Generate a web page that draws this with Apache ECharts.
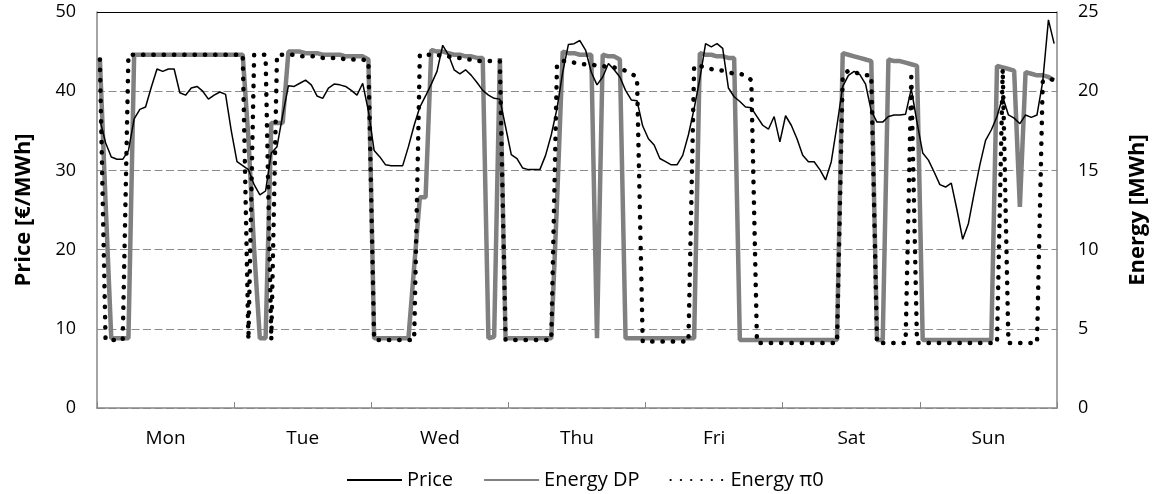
<!DOCTYPE html>
<html>
<head>
<meta charset="utf-8">
<script src="https://cdn.jsdelivr.net/npm/echarts@6/dist/echarts.min.js"></script>
<style>
  html, body { margin: 0; padding: 0; background: #fff; }
  #chart { width: 1157px; height: 494px; }
</style>
</head>
<body>
<div id="chart"></div>
<script>
// 价格与能量（逐小时，一周）
var days = ["Mon", "Tue", "Wed", "Thu", "Fri", "Sat", "Sun"];
var priceTicks = [0, 10, 20, 30, 40, 50];
var energyTicks = [0, 5, 10, 15, 20, 25];

var price = [
  36.4, 33.5, 31.7, 31.4, 31.4, 32.5, 36.5, 37.7, 38.0, 40.5, 42.8, 42.5, 42.8, 42.8, 39.8, 39.5, 40.4, 40.6, 40.0, 39.0, 39.5, 39.9, 39.6, 35.0,
  31.1, 30.6, 30.1, 28.2, 26.9, 27.4, 32.2, 33.0, 37.0, 40.7, 40.6, 41.0, 41.4, 40.8, 39.4, 39.1, 40.4, 40.9, 40.8, 40.6, 40.1, 39.5, 41.0, 37.5,
  32.5, 31.7, 30.7, 30.6, 30.6, 30.6, 33.0, 35.7, 38.0, 39.4, 40.9, 42.5, 45.8, 44.6, 42.7, 42.2, 42.7, 42.0, 41.1, 40.1, 39.5, 39.1, 39.0, 35.5,
  32.0, 31.5, 30.3, 30.1, 30.1, 30.1, 31.9, 34.5, 37.8, 42.4, 45.9, 46.0, 46.4, 45.2, 42.4, 40.8, 41.8, 43.5, 42.7, 41.8, 40.1, 38.9, 38.8, 35.6,
  34.0, 33.2, 31.5, 31.1, 30.7, 30.7, 31.9, 34.5, 37.8, 41.6, 46.0, 45.6, 46.0, 45.4, 40.4, 39.3, 38.7, 38.0, 37.9, 36.8, 35.7, 35.2, 36.8, 33.6,
  36.9, 35.7, 34.0, 31.9, 31.1, 31.1, 30.1, 28.8, 31.1, 35.7, 40.6, 42.0, 42.5, 42.1, 40.9, 37.5, 36.1, 36.1, 36.8, 37.0, 37.0, 37.1, 40.3, 36.1,
  32.2, 31.3, 29.8, 28.2, 27.9, 28.4, 25.0, 21.3, 23.3, 27.1, 30.7, 33.8, 35.1, 36.8, 39.3, 37.0, 36.6, 35.9, 37.0, 36.7, 37.0, 41.2, 49.0, 46.0
];

var energyDP = [
  22.1, 13.0, 4.4, 4.4, 4.4, 4.4, 22.3, 22.3, 22.3, 22.3, 22.3, 22.3, 22.3, 22.3, 22.3, 22.3, 22.3, 22.3, 22.3, 22.3, 22.3, 22.3, 22.3, 22.3,
  22.3, 22.3, 17.0, 10.0, 4.4, 4.4, 18.0, 18.0, 18.0, 22.5, 22.5, 22.5, 22.4, 22.4, 22.4, 22.3, 22.3, 22.3, 22.3, 22.2, 22.2, 22.2, 22.2, 22.0,
  4.4, 4.4, 4.4, 4.4, 4.4, 4.4, 4.4, 8.9, 13.3, 13.3, 22.6, 22.5, 22.5, 22.4, 22.3, 22.3, 22.2, 22.2, 22.1, 22.1, 4.4, 4.5, 22.1, 4.4,
  4.4, 4.4, 4.4, 4.4, 4.4, 4.4, 4.4, 4.4, 13.0, 22.5, 22.4, 22.4, 22.3, 22.3, 22.3, 4.4, 22.3, 22.2, 22.2, 22.0, 4.4, 4.4, 4.4, 4.4,
  4.4, 4.4, 4.4, 4.4, 4.4, 4.4, 4.4, 4.4, 4.4, 22.4, 22.3, 22.3, 22.2, 22.2, 22.1, 22.1, 4.3, 4.3, 4.3, 4.3, 4.3, 4.3, 4.3, 4.3,
  4.3, 4.3, 4.3, 4.3, 4.3, 4.3, 4.3, 4.3, 4.3, 4.3, 22.4, 22.3, 22.2, 22.1, 22.0, 21.9, 4.3, 4.3, 22.0, 21.9, 21.9, 21.8, 21.7, 21.6,
  4.3, 4.3, 4.3, 4.3, 4.3, 4.3, 4.3, 4.3, 4.3, 4.3, 4.3, 4.3, 4.3, 21.6, 21.5, 21.4, 21.3, 12.7, 21.2, 21.1, 21.0, 21.0, 20.9, 20.7
];

var energyPi0 = [
  22.0, 4.3, 4.3, 4.3, 4.3, 22.3, 22.3, 22.3, 22.3, 22.3, 22.3, 22.3, 22.3, 22.3, 22.3, 22.3, 22.3, 22.3, 22.3, 22.3, 22.3, 22.3, 22.3, 22.3,
  22.3, 22.3, 4.3, 22.3, 22.3, 22.3, 4.3, 22.3, 22.3, 22.3, 22.3, 22.2, 22.2, 22.2, 22.2, 22.1, 22.1, 22.1, 22.1, 22.0, 22.0, 22.0, 22.0, 21.9,
  4.3, 4.3, 4.3, 4.3, 4.3, 4.3, 4.3, 4.3, 22.3, 22.3, 22.3, 22.3, 22.2, 22.2, 22.1, 22.1, 22.0, 22.0, 21.9, 21.9, 21.9, 21.9, 21.9, 4.3,
  4.3, 4.3, 4.3, 4.3, 4.3, 4.3, 4.3, 4.3, 21.7, 21.9, 21.9, 21.8, 21.7, 21.7, 21.7, 21.6, 21.6, 21.5, 21.5, 21.4, 21.3, 21.1, 20.9, 4.2,
  4.2, 4.2, 4.2, 4.2, 4.2, 4.2, 4.2, 4.2, 21.6, 21.6, 21.5, 21.4, 21.3, 21.3, 21.2, 21.1, 21.1, 21.0, 20.7, 4.1, 4.1, 4.1, 4.1, 4.1,
  4.1, 4.1, 4.1, 4.1, 4.1, 4.1, 4.1, 4.1, 4.1, 4.1, 21.0, 21.3, 21.2, 21.1, 21.0, 21.0, 4.1, 4.1, 4.1, 4.1, 4.1, 4.1, 20.9, 4.1,
  4.1, 4.1, 4.1, 4.1, 4.1, 4.1, 4.1, 4.1, 4.1, 4.1, 4.1, 4.1, 4.1, 4.1, 21.4, 4.1, 4.1, 4.1, 4.1, 4.1, 4.1, 20.6, 20.8, 20.7
];

// 每小时一个类目
var hours = price.map(function (v, i) { return String(i); });

var font = "'Open Sans', 'Noto Sans', sans-serif";
var gray = "#868686";

var myChart = echarts.init(document.getElementById("chart"));
var option = {
  animation: false,
  textStyle: { fontFamily: font },
  grid: { left: 97, right: 98, top: 12, bottom: 86 },
  legend: {
    top: 465,
    left: 341,
    itemWidth: 55,
    itemHeight: 8,
    itemGap: 30,
    itemStyle: { opacity: 0 },
    textStyle: { fontSize: 20, color: "#000", fontFamily: font },
    data: ["Price", "Energy DP", "Energy π0"]
  },
  xAxis: [
    {
      type: "category",
      data: hours,
      boundaryGap: true,
      axisLine: { lineStyle: { color: gray, width: 1.5 } },
      axisTick: {
        show: true,
        inside: true,
        length: 6,
        interval: function (i) { return i % 24 === 0; },
        lineStyle: { color: gray }
      },
      axisLabel: { show: false },
      splitLine: { show: false }
    },
    {
      type: "category",
      data: days,
      position: "bottom",
      boundaryGap: true,
      axisLine: { show: false },
      axisTick: { show: false },
      axisLabel: { margin: 21, fontSize: 19, color: "#000", fontFamily: font },
      splitLine: { show: false }
    }
  ],
  yAxis: [
    {
      type: "value",
      min: priceTicks[0],
      max: priceTicks[priceTicks.length - 1],
      interval: 10,
      name: "Price [€/MWh]",
      nameLocation: "middle",
      nameRotate: 90,
      nameGap: 62,
      nameTextStyle: { fontSize: 22, fontWeight: "bold", color: "#000", fontFamily: font },
      axisLine: { show: true, lineStyle: { color: gray, width: 1.5 } },
      axisTick: { show: false },
      axisLabel: { margin: 21, fontSize: 18, color: "#000", fontFamily: font },
      splitLine: { show: true, lineStyle: { color: "#8c8c8c", type: [8, 3.5], width: 1 } }
    },
    {
      type: "value",
      min: energyTicks[0],
      max: energyTicks[energyTicks.length - 1],
      interval: 5,
      name: "Energy [MWh]",
      nameLocation: "middle",
      nameRotate: 90,
      nameGap: 70,
      nameTextStyle: { fontSize: 22, fontWeight: "bold", color: "#000", fontFamily: font },
      axisLine: { show: true, lineStyle: { color: gray, width: 1.5 } },
      axisTick: { show: false },
      axisLabel: { margin: 21, fontSize: 18, color: "#000", fontFamily: font },
      splitLine: { show: false }
    }
  ],
  series: [
    {
      name: "Price",
      type: "line",
      xAxisIndex: 0,
      yAxisIndex: 0,
      data: price,
      symbol: "none",
      z: 4,
      lineStyle: { color: "#000", width: 1.5 },
      itemStyle: { color: "#000" },
      markLine: {
        silent: true,
        symbol: "none",
        label: { show: false },
        lineStyle: { color: "#000", type: "solid", width: 1 },
        data: [{ yAxis: 50 }]
      }
    },
    {
      name: "Energy DP",
      type: "line",
      xAxisIndex: 0,
      yAxisIndex: 1,
      data: energyDP,
      symbol: "none",
      z: 2,
      lineStyle: { color: "#808080", width: 4.5 },
      itemStyle: { color: "#808080" }
    },
    {
      name: "Energy π0",
      type: "line",
      xAxisIndex: 0,
      yAxisIndex: 1,
      data: energyPi0,
      symbol: "none",
      z: 3,
      lineStyle: { color: "#000", width: 4.5, type: [0.3, 10], cap: "round" },
      itemStyle: { color: "#000" }
    }
  ]
};
myChart.setOption(option);
</script>
</body>
</html>
